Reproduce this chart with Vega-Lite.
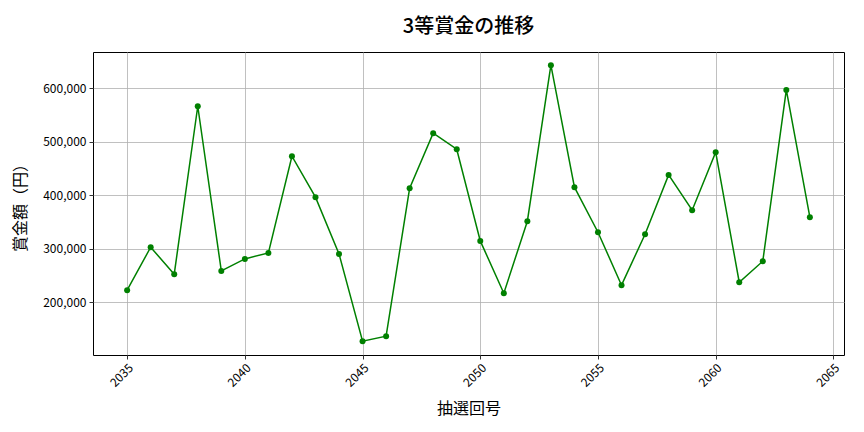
{
  "$schema": "https://vega.github.io/schema/vega-lite/v6.json",
  "autosize": "none",
  "width": 751,
  "height": 303,
  "padding": {"left": 93, "top": 52, "right": 20, "bottom": 77},
  "background": "white",
  "title": {
    "text": "3等賞金の推移",
    "font": "Noto Sans CJK JP",
    "fontSize": 20,
    "fontWeight": 500,
    "color": "black",
    "anchor": "middle",
    "offset": 15
  },
  "data": {
    "values": [
      {"draw": 2035, "prize": 222400},
      {"draw": 2036, "prize": 302800},
      {"draw": 2037, "prize": 252300},
      {"draw": 2038, "prize": 566300},
      {"draw": 2039, "prize": 258500},
      {"draw": 2040, "prize": 280900},
      {"draw": 2041, "prize": 292100},
      {"draw": 2042, "prize": 472900},
      {"draw": 2043, "prize": 396300},
      {"draw": 2044, "prize": 290300},
      {"draw": 2045, "prize": 127100},
      {"draw": 2046, "prize": 136400},
      {"draw": 2047, "prize": 413100},
      {"draw": 2048, "prize": 515900},
      {"draw": 2049, "prize": 486000},
      {"draw": 2050, "prize": 314600},
      {"draw": 2051, "prize": 216800},
      {"draw": 2052, "prize": 351400},
      {"draw": 2053, "prize": 643000},
      {"draw": 2054, "prize": 415000},
      {"draw": 2055, "prize": 330800},
      {"draw": 2056, "prize": 231800},
      {"draw": 2057, "prize": 327100},
      {"draw": 2058, "prize": 438000},
      {"draw": 2059, "prize": 372000},
      {"draw": 2060, "prize": 480400},
      {"draw": 2061, "prize": 237400},
      {"draw": 2062, "prize": 276600},
      {"draw": 2063, "prize": 596800},
      {"draw": 2064, "prize": 358900}
    ]
  },
  "encoding": {
    "x": {
      "field": "draw",
      "type": "quantitative",
      "scale": {"domain": [2033.55, 2065.45], "nice": false, "zero": false},
      "axis": {
        "title": "抽選回号",
        "values": [2035, 2040, 2045, 2050, 2055, 2060, 2065],
        "format": "d",
        "labelAngle": -45,
        "labelAlign": "right",
        "labelBaseline": "top",
        "titlePadding": 12
      }
    },
    "y": {
      "field": "prize",
      "type": "quantitative",
      "scale": {"domain": [101300, 667700], "nice": false, "zero": false},
      "axis": {
        "title": "賞金額（円）",
        "values": [200000, 300000, 400000, 500000, 600000],
        "format": ",d",
        "titlePadding": 14
      }
    }
  },
  "layer": [
    {"mark": {"type": "line", "color": "#008000", "strokeWidth": 1.5}},
    {"mark": {"type": "point", "filled": true, "color": "#008000", "size": 36, "opacity": 1}}
  ],
  "config": {
    "font": "Noto Sans CJK JP",
    "view": {"stroke": "black", "strokeWidth": 1},
    "axis": {
      "domain": false,
      "grid": true,
      "gridColor": "#b0b0b0",
      "gridWidth": 0.8,
      "tickColor": "black",
      "tickSize": 4,
      "tickWidth": 0.8,
      "labelColor": "black",
      "labelFont": "Noto Sans CJK JP",
      "labelFontSize": 12,
      "labelPadding": 3,
      "titleFont": "Noto Sans CJK JP",
      "titleFontSize": 16,
      "titleFontWeight": "normal",
      "titleColor": "black"
    }
  }
}
